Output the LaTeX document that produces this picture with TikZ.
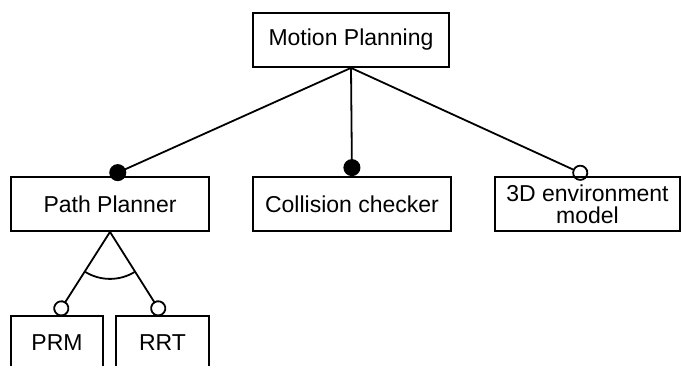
\documentclass[tikz,border=0pt]{standalone}
\usepackage{fontspec}
\setmainfont{Liberation Sans}
\usepackage{tikz}
\usetikzlibrary{positioning,arrows.meta,calc}
\tikzstyle{nodeFeature}=[draw, rectangle, line width=1.8pt, inner sep=0pt, minimum height=54pt, font=\fontsize{23}{22}\selectfont, align=center]
\tikzstyle{edgeMandatory}=[line width=1.8pt, -{Circle[length=17pt, width=17pt]}]
\tikzstyle{edgeOptional}=[line width=1.8pt, -{Circle[open, length=16pt, width=16pt]}]

\begin{document}
\begin{tikzpicture}[auto, on grid, x=1pt, y=1pt]
      \useasboundingbox (0,0) rectangle (682,-365);
      \clip (0,0) rectangle (682,-365);
      \node[nodeFeature, minimum width=196pt] (mp) at (351,-40) {Motion Planning};
      \node[nodeFeature, minimum width=198pt] (pp) [below left = 164pt and 241pt of mp] {Path Planner};
      \node[nodeFeature, minimum width=198pt] (cc) [below right = 164pt and 1pt of mp] {Collision checker};
      \node[nodeFeature, minimum width=185pt] (env) [below right = 164pt and 236.5pt of mp] {3D environment\\model};
      \node[nodeFeature, minimum width=92pt] (prm) [below left = 139pt and 53pt of pp] {PRM};
      \node[nodeFeature, minimum width=93pt] (rrt) [below right = 139pt and 52.5pt of pp] {RRT};
      \draw (mp.south) edge[edgeMandatory] (pp.north);
      \draw (mp.south) edge[edgeMandatory] (cc.north);
      \draw (mp.south) edge[edgeOptional] (env.north);
      \draw (pp.south) edge[edgeOptional] (prm.north);
      \draw (pp.south) edge[edgeOptional] (rrt.north);
      % alternative group
      \draw[line width=1.8pt] ([shift={(238.4:47)}]pp.south) arc[start angle=238.4, end angle=301.6, radius=47];
    \end{tikzpicture}
\end{document}
